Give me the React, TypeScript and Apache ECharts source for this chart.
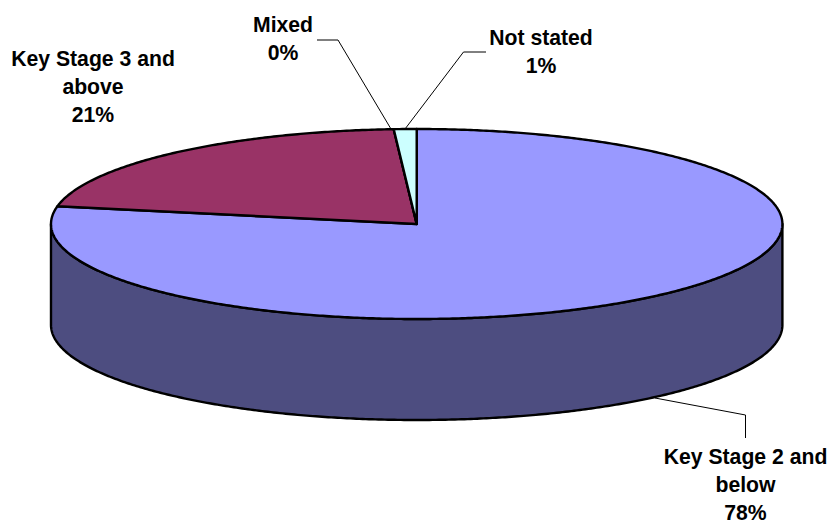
import React, { useEffect, useRef } from "react";
import * as echarts from "echarts";

const categories = ["Key Stage 2 and\nbelow", "Key Stage 3 and\nabove", "Mixed", "Not stated"];
const shares = [78, 21, 0, 1];
const topColors = ["#9999FF", "#993366", "#FFFFCC", "#CCFFFF"];
const wallColors = ["#4D4D80", "#4D1A33", "#808066", "#668080"];

// Disc geometry, in page pixels
const CX = 416.7;
const CY = 224;
const RX = 365.7;
const RY = 95;
const DEPTH = 101;

// Centre of each label's first line, and the leader polylines
const labelAnchors = [
  [745.5, 456],
  [93, 58],
  [283, 24],
  [541, 37.5],
];
const LINE_STEP = 28.3;
const leaders = [
  [[655, 398], [745.5, 415], [745.5, 438]],
  [[391, 129], [338, 40], [317, 40]],
  [[405, 129], [463.5, 52], [486, 52]],
];

const DEG = Math.PI / 180;
const px = (t: number) => CX + RX * Math.sin(t * DEG);
const py = (t: number) => CY - RY * Math.cos(t * DEG);

// Points along the rim, clockwise on screen, with angles measured from 12 o'clock
const rim = (a: number, b: number, dy = 0) => {
  const steps = Math.max(2, Math.ceil((b - a) * 2));
  const pts: number[][] = [];
  for (let k = 0; k <= steps; k++) {
    const t = a + ((b - a) * k) / steps;
    pts.push([px(t), py(t) + dy]);
  }
  return pts;
};

const total = shares.reduce((s, v) => s + v, 0);
const spans = shares.reduce<number[][]>((acc, v) => {
  const start = acc.length ? acc[acc.length - 1][1] : 0;
  acc.push([start, start + (v / total) * 360]);
  return acc;
}, []);

const outline = { stroke: "#000", lineWidth: 2.4, lineJoin: "round" as const };

function renderSlice(params: any) {
  const i = params.dataIndex;
  const [a, b] = spans[i];
  const children: any[] = [];
  // Only the part of a slice on the near half of the disc shows a wall
  const wa = Math.max(a, 90);
  const wb = Math.min(b, 270);
  if (wb > wa) {
    children.push({
      type: "polygon",
      shape: { points: [...rim(wa, wb), ...rim(wa, wb, DEPTH).reverse()] },
      style: { fill: wallColors[i], ...outline },
    });
  }
  if (b > a) {
    children.push({
      type: "polygon",
      z2: 2,
      shape: { points: [[CX, CY], ...rim(a, b)] },
      style: { fill: topColors[i], ...outline },
    });
  } else {
    children.push({
      type: "line",
      z2: 2,
      shape: { x1: CX, y1: CY, x2: px(a), y2: py(a) },
      style: outline,
    });
  }
  return { type: "group", children };
}

export default function App() {
  const ref = useRef<HTMLDivElement>(null);
  useEffect(() => {
    const chart = echarts.init(ref.current!, null, { renderer: "svg" });
    // Each label line is its own text element, stacked from the anchor downwards
    const labelLines = categories.flatMap((name, i) =>
      [...name.split("\n"), `${shares[i]}%`].map((line, k) => ({
        type: "text",
        z: 11,
        x: labelAnchors[i][0],
        y: labelAnchors[i][1] + k * LINE_STEP,
        style: {
          text: line,
          fill: "#000",
          font: 'bold 21.2px "Liberation Sans", Arial, sans-serif',
          lineHeight: 15,
          align: "center",
          verticalAlign: "middle",
        },
      })),
    );
    chart.setOption({
      animation: false,
      backgroundColor: "#fff",
      series: [
        {
          type: "custom",
          coordinateSystem: "none",
          silent: true,
          data: shares.map((v, i) => ({ name: categories[i], value: [v] })),
          renderItem: renderSlice,
        },
      ],
      graphic: [
        ...leaders.map((points) => ({
          type: "polyline",
          z: 10,
          shape: { points },
          style: { stroke: "#000", lineWidth: 1, fill: "none" },
        })),
        ...labelLines,
      ],
    });
    return () => chart.dispose();
  }, []);
  return (
    <div
      ref={ref}
      style={{ position: "fixed", left: 0, top: 0, width: 829, height: 521 }}
    />
  );
}
